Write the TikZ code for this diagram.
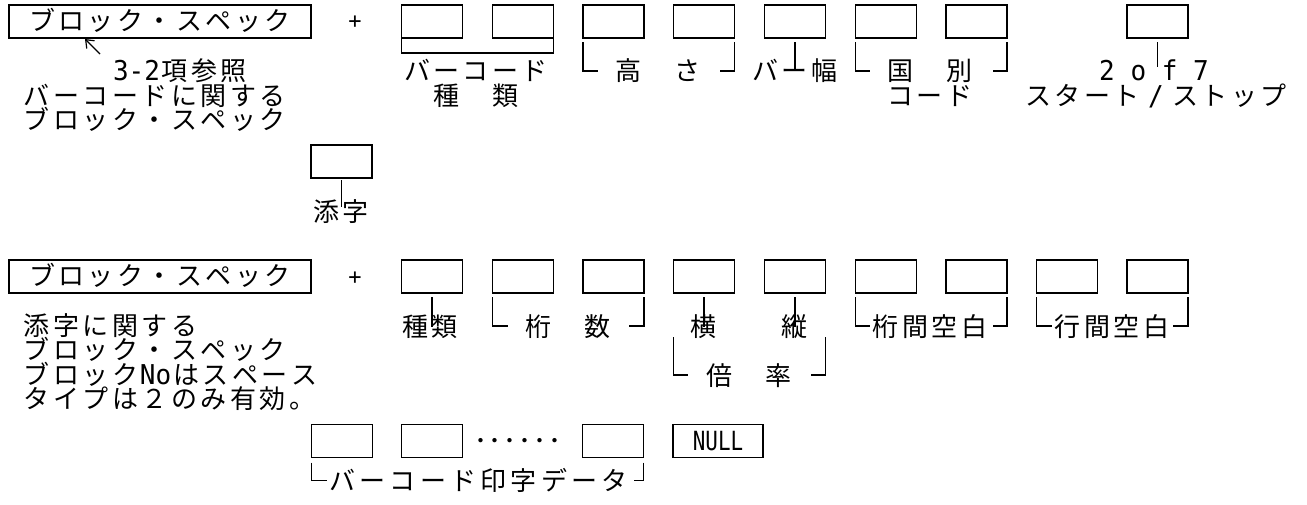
\documentclass[tikz,border=0pt]{standalone}
\usepackage{fontspec}
\usepackage{graphicx}
\setmainfont{Noto Sans CJK JP}
\newfontfamily\asc{DejaVu Sans Mono}
\usetikzlibrary{arrows.meta,calc}
\newcommand\mj[2][29.5pt]{\def\mjw{#1}\mjloop#2\relax}
\def\mjloop#1{\ifx#1\relax\else\makebox[\mjw]{#1}\expandafter\mjloop\fi}
\newcommand\tall[1]{\raisebox{0pt}[17pt][1pt]{\scalebox{1}[1.05]{\asc #1}}}
\begin{document}
\begin{tikzpicture}[x=1pt,y=-1pt,
  every node/.style={inner sep=0pt,outer sep=0pt,font=\fontsize{26}{30}\selectfont},
  lbl/.style={text height=19pt,text depth=2pt},
  cell/.style={draw,line width=1.5pt,minimum width=61pt,minimum height=33pt},
  bigbox/.style={draw,line width=1.5pt,minimum width=302pt,minimum height=33pt,text height=19pt,text depth=2pt},
  nullbox/.style={draw,line width=1.5pt,minimum width=90pt,minimum height=33pt,font=\asc\fontsize{22}{26}\selectfont},
  plus/.style={font=\asc\fontsize{22}{26}\selectfont},
  conn/.style={line width=1.5pt},
  arr/.style={line width=1.2pt,-{Straight Barb[length=7pt,width=11pt]}}]
\path[fill=white,use as bounding box] (0,0) rectangle (1307,504);

% ---------- row 1 ----------
\node[bigbox] (spec1) at (160,21.5) {\mj{ブロック・スペック}};
\node[plus] (plus1) at (355,22) {+};
\node[cell] (a1) at (432,21.5) {};
\node[cell] (b1) at (523,21.5) {};
\node[cell] (c1) at (613.5,21.5) {};
\node[cell] (d1) at (704,21.5) {};
\node[cell] (e1) at (795,21.5) {};
\node[cell] (f1) at (886,21.5) {};
\node[cell] (g1) at (976.5,21.5) {};
\node[cell] (h1) at (1157.5,21.5) {};

\draw[conn] (a1.south west) -- ++(0,15) -| (b1.south east);
\node[lbl] (bctype1) at (476,72) {\mj{バーコード}};
\node[lbl] (bctype2) at (476,97) {\mj{種　類}};

\draw[conn] ($(c1.south west)+(0,4)$) -- ++(0,29) -- ++(15,0);
\draw[conn] ($(d1.south east)+(0,4)$) -- ++(0,29) -- ++(-15,0);
\node[lbl] (height) at (658,72) {\mj{高　さ}};

\draw[conn] ($(e1.south)+(0,4)$) -- ++(0,29);
\node[lbl] (barw) at (795,72) {\mj{バー幅}};

\draw[conn] ($(f1.south west)+(0,4)$) -- ++(0,29) -- ++(14,0);
\draw[conn] ($(g1.south east)+(0,4)$) -- ++(0,29) -- ++(-14,0);
\node[lbl] (cc1) at (930,72) {\mj{国　別}};
\node[lbl] (cc2) at (930,97) {\mj{コード}};

\draw[conn] ($(h1.south)+(0,4)$) -- ++(0,25);
\node[lbl] (of7) at (1154,72) {\tall{2 o f 7}};
\node[lbl] (ss) at (1156,97) {\mj{スタート}\makebox[29.5pt]{\tall{/}}\mj{ストップ}};

\node[lbl,anchor=west] (ref) at (113,72) {\tall{3-2}\mj{項参照}};
\node[lbl,anchor=west] (d1a) at (22,97) {\mj{バーコードに関する}};
\node[lbl,anchor=west] (d1b) at (22,121) {\mj{ブロック・スペック}};
\coordinate (arrtail) at (100,54);
\coordinate (arrtip) at ($(spec1.south west)+(76,1)$);
\draw[arr] (arrtail) -- (arrtip);

% ---------- subscript box ----------
\node[cell] (i1) at (341.5,161.5) {};
\draw[conn] ($(i1.south)+(0,2)$) -- ++(0,27);
\node[lbl] (soeji) at (341,213) {\mj{添字}};

% ---------- row 2 ----------
\node[bigbox] (spec2) at (160,276.5) {\mj{ブロック・スペック}};
\node[plus] (plus2) at (355,278) {+};
\node[cell] (k2) at (432,276.5) {};
\node[cell] (l2) at (523,276.5) {};
\node[cell] (m2) at (613.5,276.5) {};
\node[cell] (n2) at (704,276.5) {};
\node[cell] (o2) at (795,276.5) {};
\node[cell] (p2) at (886,276.5) {};
\node[cell] (q2) at (976.5,276.5) {};
\node[cell] (r2) at (1067,276.5) {};
\node[cell] (s2) at (1157.5,276.5) {};

\draw[conn] ($(k2.south)+(0,4)$) -- ++(0,30);
\node[lbl] (kind) at (430,328) {\mj{種類}};

\draw[conn] ($(l2.south west)+(0,4)$) -- ++(0,29) -- ++(15,0);
\draw[conn] ($(m2.south east)+(0,4)$) -- ++(0,29) -- ++(-15,0);
\node[lbl] (digits) at (568,328) {\mj{桁　数}};

\draw[conn] ($(n2.south)+(0,4)$) -- ++(0,30);
\node[lbl] (horiz) at (703,328) {\mj{横}};
\draw[conn] ($(o2.south)+(0,4)$) -- ++(0,30);
\node[lbl] (vert) at (794,328) {\mj{縦}};
\draw[conn] ($(n2.south west)+(0,44)$) -- ++(0,38) -- ++(14,0);
\draw[conn] ($(o2.south east)+(0,44)$) -- ++(0,38) -- ++(-15,0);
\node[lbl] (ratio) at (749,377) {\mj{倍　率}};

\draw[conn] ($(p2.south west)+(0,4)$) -- ++(0,29) -- ++(14,0);
\draw[conn] ($(q2.south east)+(0,4)$) -- ++(0,29) -- ++(-14,0);
\node[lbl] (cgap) at (930,328) {\mj{桁間空白}};

\draw[conn] ($(r2.south west)+(0,4)$) -- ++(0,29) -- ++(15,0);
\draw[conn] ($(s2.south east)+(0,4)$) -- ++(0,29) -- ++(-15,0);
\node[lbl] (lgap) at (1112,328) {\mj{行間空白}};

\node[lbl,anchor=west] (d2a) at (22,327) {\mj{添字に関する}};
\node[lbl,anchor=west] (d2b) at (22,351) {\mj{ブロック・スペック}};
\node[lbl,anchor=west] (d2c) at (22,376) {\mj{ブロック}\tall{No}\mj{はスペース}};
\node[lbl,anchor=west] (d2d) at (22,400) {\mj{タイプは２のみ有効。}};

% ---------- row 3 ----------
\node[cell] (t3) at (342,441) {};
\node[cell] (u3) at (432,441) {};
\node[lbl] (dots) at (518,442) {\mj[15pt]{･･････}};
\node[cell] (v3) at (613,441) {};
\node[nullbox] (w3) at (718,441) {\scalebox{0.95}[1.2]{NULL}};

\draw[conn] ($(t3.south west)+(0,5)$) -- ++(0,18) -- ++(15,0);
\draw[conn] ($(v3.south east)+(0,5)$) -- ++(0,18) -- ++(-10,0);
\node[lbl] (bcdata) at (478.5,482) {\mj[30.3pt]{バーコード印字データ}};
\end{tikzpicture}
\end{document}
